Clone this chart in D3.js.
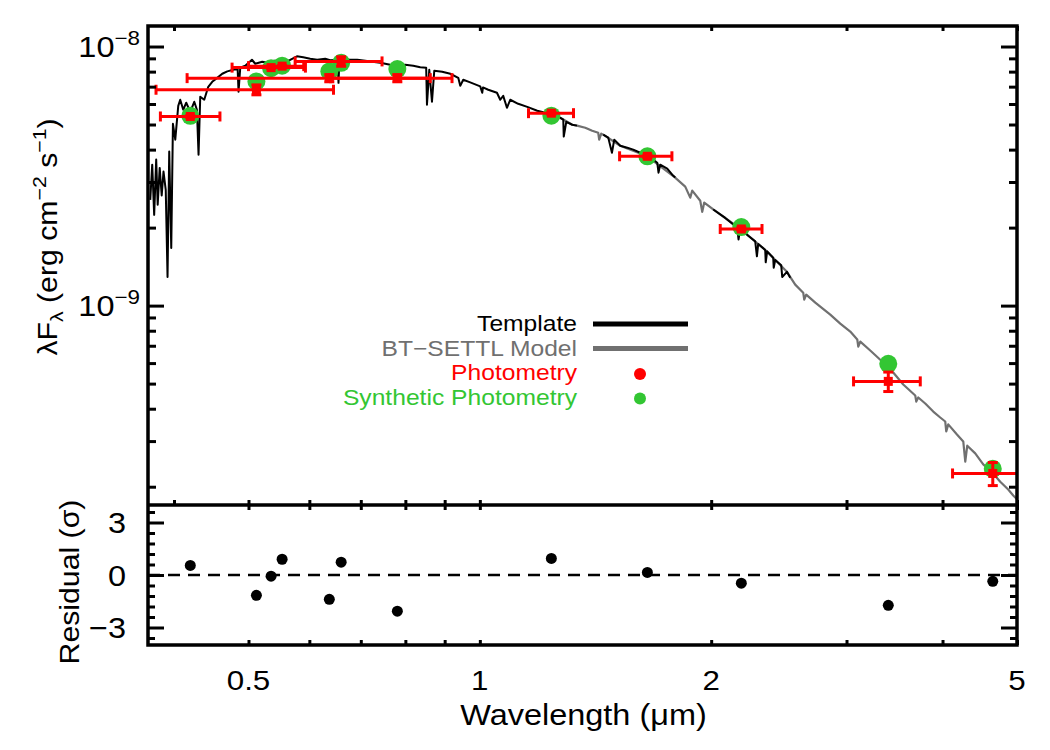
<!DOCTYPE html>
<html>
<head>
<meta charset="utf-8">
<script src="https://cdn.jsdelivr.net/npm/d3@7"></script>
<style>
body { margin: 0; background: #fff; }
svg text { font-family: "Liberation Sans", Arial, Helvetica, sans-serif; }
</style>
</head>
<body>
<div id="sed"></div>
<script>
// ---- data ----
// template spectrum (um, erg cm-2 s-1); null marks a gap in the template
const templateWave = [
  0.3725, 0.3747, 0.3769, 0.3792, 0.3809, 0.3832, 0.3855, 0.3876, 0.3902, 0.3923,
  0.3943, 0.3967, 0.3987, 0.4015, 0.4051, 0.4075, 0.4112, 0.4149, 0.4199, 0.4250,
  0.4284, 0.4305, 0.4327, 0.4379, 0.4432, 0.4485, 0.4553, 0.4622, 0.4692, 0.4777,
  0.4840, 0.4853, 0.4878, 0.4952, 0.5052, 0.5102, 0.5210, 0.5305, 0.5401, 0.5499,
  0.5616, 0.5781, 0.5891, 0.6016, 0.6143, 0.6292, 0.6387, 0.6530, 0.6548, 0.6565,
  0.6641, 0.6782, 0.6926, 0.7094, 0.7244, 0.7420, 0.7645, 0.7807, 0.7996, 0.8191,
  0.8365, 0.8515, 0.8535, 0.8594, 0.8664, 0.8724, 0.8934, 0.9152, 0.9374, 0.9430,
  0.9515, 0.9716, 1.0012, 1.0072, 1.0095, 1.0255, 1.0526, 1.0630, 1.0726, 1.0846,
  1.0953, 1.1218, 1.1527, 1.1877, 1.2165, 1.2423, 1.2649, 1.2840, 1.2859, 1.2956,
  1.3191, 1.3378,
  1.39,
  1.4473, 1.4692, 1.4856, 1.4959, 1.5230, 1.5553, 1.5835, 1.6171, 1.6513, 1.6812,
  1.7015, 1.7081, 1.7168, 1.7532, 1.7797, 1.7958,
  1.90,
  2.0124, 2.0860, 2.1623, 2.1707, 2.1818, 2.2347, 2.2821, 2.2937, 2.3027, 2.3515,
  2.3550, 2.3656, 2.4085, 2.4121, 2.4230, 2.4670, 2.4744, 2.5096, 2.5345
];
const templateFlux = [
  2.56e-9, 3.50e-9, 2.24e-9, 3.66e-9, 2.45e-9, 3.40e-9, 2.66e-9, 3.29e-9, 2.80e-9, 1.29e-9,
  3.93e-9, 1.67e-9, 5.03e-9, 4.37e-9, 5.90e-9, 6.23e-9, 5.70e-9, 6.07e-9, 5.60e-9, 6.12e-9,
  5.70e-9, 3.82e-9, 6.40e-9, 6.23e-9, 6.99e-9, 7.31e-9, 7.57e-9, 7.85e-9, 8.02e-9, 8.13e-9,
  8.20e-9, 6.69e-9, 8.28e-9, 8.43e-9, 8.89e-9, 8.58e-9, 8.73e-9, 8.65e-9, 8.81e-9, 8.73e-9,
  8.77e-9, 9.17e-9, 9.09e-9, 8.97e-9, 8.89e-9, 8.97e-9, 8.85e-9, 8.87e-9, 7.24e-9, 8.90e-9,
  8.93e-9, 8.89e-9, 8.89e-9, 8.81e-9, 8.73e-9, 8.65e-9, 8.50e-9, 8.43e-9, 8.50e-9, 8.43e-9,
  8.31e-9, 8.28e-9, 5.96e-9, 8.13e-9, 6.12e-9, 8.06e-9, 7.99e-9, 7.85e-9, 7.57e-9, 7.05e-9,
  7.44e-9, 7.27e-9, 7.02e-9, 6.63e-9, 6.95e-9, 6.81e-9, 6.63e-9, 6.23e-9, 6.45e-9, 5.80e-9,
  6.23e-9, 6.01e-9, 5.85e-9, 5.65e-9, 5.55e-9, 5.48e-9, 5.36e-9, 5.22e-9, 4.49e-9, 5.12e-9,
  4.99e-9, 4.95e-9,
  null,
  4.57e-9, 4.45e-9, 3.89e-9, 4.37e-9, 4.14e-9, 4.07e-9, 4.00e-9, 3.89e-9, 3.77e-9, 3.66e-9,
  3.56e-9, 3.26e-9, 3.50e-9, 3.38e-9, 3.20e-9, 3.12e-9,
  null,
  2.35e-9, 2.18e-9, 2.00e-9, 1.80e-9, 1.98e-9, 1.86e-9, 1.77e-9, 1.55e-9, 1.73e-9, 1.64e-9,
  1.47e-9, 1.62e-9, 1.53e-9, 1.40e-9, 1.50e-9, 1.43e-9, 1.29e-9, 1.35e-9, 1.28e-9
];

// BT-SETTL model (only the part that is not hidden under the template matters)
const modelWave = [
  1.2725, 1.3191, 1.3378, 1.3715, 1.4002, 1.4256, 1.4299, 1.4386, 1.4473, 1.5230,
  1.6513, 1.7958, 1.8012, 1.8504, 1.8784, 1.8897, 1.9355, 1.9471, 1.9588, 2.0124,
  2.1818, 2.3515, 2.5096, 2.5727, 2.6351, 2.6430, 2.6588, 2.7321, 2.8576, 2.9444,
  3.0341, 3.0984, 3.1077, 3.1264, 3.2211, 3.3490, 3.4509, 3.5560, 3.6862, 3.6973,
  3.7195, 3.7983, 3.8904, 3.9728, 4.0328, 4.0450, 4.0693, 4.1768, 4.2565, 4.2821,
  4.3078, 4.4119, 4.5190, 4.6426, 4.7552, 4.8703, 4.9440, 5.0
];
const modelFlux = [
  5.31e-9, 4.99e-9, 4.95e-9, 4.86e-9, 4.73e-9, 4.65e-9, 4.37e-9, 4.61e-9, 4.57e-9, 4.14e-9,
  3.77e-9, 3.12e-9, 3.09e-9, 2.88e-9, 2.61e-9, 2.78e-9, 2.54e-9, 2.30e-9, 2.50e-9, 2.35e-9,
  1.98e-9, 1.64e-9, 1.35e-9, 1.205e-9, 1.122e-9, 1.055e-9, 1.102e-9, 1.027e-9, 9.23e-10, 8.52e-10,
  7.94e-10, 7.40e-10, 6.95e-10, 7.26e-10, 6.71e-10, 6.03e-10, 5.52e-10, 4.96e-10, 4.50e-10, 4.26e-10,
  4.42e-10, 4.19e-10, 3.90e-10, 3.70e-10, 3.57e-10, 3.27e-10, 3.48e-10, 3.18e-10, 2.99e-10, 2.50e-10,
  2.88e-10, 2.69e-10, 2.44e-10, 2.27e-10, 2.09e-10, 1.95e-10, 1.85e-10, 1.79e-10
];

// photometric bands: centre, filter extent, observed flux, 1-sigma, synthetic flux, residual
const bandWave  = [0.420, 0.512, 0.535, 0.553, 0.637, 0.660, 0.781, 1.239, 1.652, 2.189, 3.40, 4.65];
const bandLo    = [0.384, 0.379, 0.476, 0.500, 0.416, 0.575, 0.639, 1.157, 1.520, 2.055, 3.064, 4.122];
const bandHi    = [0.459, 0.645, 0.593, 0.590, 0.862, 0.746, 0.920, 1.324, 1.778, 2.329, 3.742, 5.20];
const photFlux  = [5.37e-9, 6.81e-9, 8.29e-9, 8.40e-9, 7.55e-9, 8.76e-9, 7.55e-9, 5.53e-9, 3.77e-9, 1.976e-9, 5.10e-10, 2.25e-10];
const photErr   = [0.05e-9, 0.30e-9, 0.05e-9, 0.05e-9, 0.24e-9, 0.37e-9, 0.24e-9, 0.05e-9, 0.04e-9, 0.02e-9, 0.44e-10, 0.23e-10];
const synthFlux = [5.40e-9, 7.33e-9, 8.25e-9, 8.43e-9, 8.01e-9, 8.65e-9, 8.18e-9, 5.41e-9, 3.77e-9, 2.01e-9, 5.96e-10, 2.345e-10];
const residual  = [0.55, -1.16, -0.07, 0.90, -1.39, 0.73, -2.07, 0.95, 0.15, -0.47, -1.73, -0.36];

// ticks
const topXTicks   = [0.4, 0.5, 0.6, 0.7, 0.8, 0.9, 1, 2, 3, 4, 5];
const resXTicks   = [0.5, 0.6, 0.7, 0.8, 0.9, 1, 2, 3, 4, 5];
const xTickLabels = [0.5, 1, 2, 5];
const yMajor      = [1e-8, 1e-9];
const yMajorExp   = [-8, -9];
const yMinor      = [2e-10, 3e-10, 4e-10, 5e-10, 6e-10, 7e-10, 8e-10, 9e-10,
                     2e-9, 3e-9, 4e-9, 5e-9, 6e-9, 7e-9, 8e-9, 9e-9];
const resMajor    = [-3, 0, 3];
const resMinor    = [-3.6, -2.4, -1.8, -1.2, -0.6, 0.6, 1.2, 1.8, 2.4, 3.6];

const legendNames  = ["Template", "BT\u2212SETTL Model", "Photometry", "Synthetic Photometry"];
const legendColors = ["#000000", "#707070", "#ff0000", "#33c633"];

// ---- layout ----
const W = 1050, H = 750;
const pLeft = 148, pRight = 1017, pTop = 26, pMid = 505, pBottom = 645;
const stretch = 1.12;   // text in the figure is a bit wider than the font

const svg = d3.select("#sed").append("svg")
    .attr("width", W)
    .attr("height", H);

const x = d3.scaleLog().domain([0.37, 5]).range([pLeft, pRight]);
const y = d3.scaleLog().domain([1.7e-10, 1.2e-8]).range([pMid, pTop]);
const yRes = d3.scaleLinear().domain([-4, 4]).range([pBottom, pMid]);

svg.append("clipPath").attr("id", "clipTop")
    .append("rect")
    .attr("x", pLeft).attr("y", pTop)
    .attr("width", pRight - pLeft).attr("height", pMid - pTop);

const plot = svg.append("g").attr("clip-path", "url(#clipTop)");

const line = d3.line()
    .defined(d => d[1] != null)
    .x(d => x(d[0]))
    .y(d => y(d[1]));

plot.append("path")
    .datum(modelWave.map((w, i) => [w, modelFlux[i]]))
    .attr("d", line)
    .attr("fill", "none")
    .attr("stroke", "#707070")
    .attr("stroke-width", 2.2)
    .attr("stroke-linejoin", "round");

plot.append("path")
    .datum(templateWave.map((w, i) => [w, templateFlux[i]]))
    .attr("d", line)
    .attr("fill", "none")
    .attr("stroke", "#000")
    .attr("stroke-width", 2)
    .attr("stroke-linejoin", "round");

const bands = bandWave.map((w, i) => ({
    w: w, lo: bandLo[i], hi: bandHi[i], f: photFlux[i], e: photErr[i], s: synthFlux[i], r: residual[i]
}));

// synthetic photometry below the observed points
plot.selectAll("circle.synth")
    .data(bands)
    .enter().append("circle")
    .attr("class", "synth")
    .attr("cx", d => x(d.w))
    .attr("cy", d => y(d.s))
    .attr("r", 9)
    .attr("fill", "#33c633");

const eb = plot.selectAll("g.eb")
    .data(bands)
    .enter().append("g")
    .attr("class", "eb")
    .attr("stroke", "#ff0000")
    .attr("stroke-width", 3);

eb.append("line")
    .attr("x1", d => x(d.lo)).attr("x2", d => x(d.hi))
    .attr("y1", d => y(d.f)).attr("y2", d => y(d.f));
eb.append("line")
    .attr("x1", d => x(d.lo)).attr("x2", d => x(d.lo))
    .attr("y1", d => y(d.f) - 5).attr("y2", d => y(d.f) + 5);
eb.append("line")
    .attr("x1", d => x(d.hi)).attr("x2", d => x(d.hi))
    .attr("y1", d => y(d.f) - 5).attr("y2", d => y(d.f) + 5);
eb.append("line")
    .attr("x1", d => x(d.w)).attr("x2", d => x(d.w))
    .attr("y1", d => y(d.f - d.e)).attr("y2", d => y(d.f + d.e));
eb.append("line")
    .attr("x1", d => x(d.w) - 5).attr("x2", d => x(d.w) + 5)
    .attr("y1", d => y(d.f - d.e)).attr("y2", d => y(d.f - d.e));
eb.append("line")
    .attr("x1", d => x(d.w) - 5).attr("x2", d => x(d.w) + 5)
    .attr("y1", d => y(d.f + d.e)).attr("y2", d => y(d.f + d.e));
eb.append("rect")
    .attr("stroke", "none")
    .attr("fill", "#ff0000")
    .attr("x", d => x(d.w) - 4.5)
    .attr("y", d => y(d.f) - 4.5)
    .attr("width", 9).attr("height", 9);

// residual panel
svg.append("line")
    .attr("x1", pLeft).attr("x2", pRight)
    .attr("y1", yRes(0)).attr("y2", yRes(0))
    .attr("stroke", "#000")
    .attr("stroke-width", 2.5)
    .attr("stroke-dasharray", "12,8");

svg.selectAll("circle.res")
    .data(bands)
    .enter().append("circle")
    .attr("class", "res")
    .attr("cx", d => x(d.w))
    .attr("cy", d => yRes(d.r))
    .attr("r", 5.5)
    .attr("fill", "#000");

// ---- axes: inward ticks only, frame drawn separately ----
function ticks(axis, ty, tx) {
    const g = svg.append("g")
        .attr("transform", "translate(" + (tx || 0) + "," + (ty || 0) + ")")
        .call(axis.tickFormat(""));
    g.select(".domain").remove();
    g.selectAll(".tick line").attr("stroke", "#000").attr("stroke-width", 3);
    return g;
}

ticks(d3.axisBottom(x).tickValues(topXTicks).tickSize(-5), pMid);
ticks(d3.axisTop(x).tickValues(topXTicks).tickSize(-5), pTop);
ticks(d3.axisLeft(y).tickValues(yMajor).tickSize(-16), 0, pLeft);
ticks(d3.axisLeft(y).tickValues(yMinor).tickSize(-8), 0, pLeft);
ticks(d3.axisRight(y).tickValues(yMajor).tickSize(-16), 0, pRight);
ticks(d3.axisRight(y).tickValues(yMinor).tickSize(-8), 0, pRight);

ticks(d3.axisTop(x).tickValues(resXTicks).tickSize(-5), pMid);
ticks(d3.axisBottom(x).tickValues(resXTicks).tickSize(-5), pBottom);
ticks(d3.axisLeft(yRes).tickValues(resMajor).tickSize(-16), 0, pLeft);
ticks(d3.axisLeft(yRes).tickValues(resMinor).tickSize(-7), 0, pLeft);
ticks(d3.axisRight(yRes).tickValues(resMajor).tickSize(-16), 0, pRight);
ticks(d3.axisRight(yRes).tickValues(resMinor).tickSize(-7), 0, pRight);

svg.append("rect")
    .attr("x", pLeft).attr("y", pTop)
    .attr("width", pRight - pLeft).attr("height", pBottom - pTop)
    .attr("fill", "none")
    .attr("stroke", "#000")
    .attr("stroke-width", 3.5);
svg.append("line")
    .attr("x1", pLeft).attr("x2", pRight)
    .attr("y1", pMid).attr("y2", pMid)
    .attr("stroke", "#000")
    .attr("stroke-width", 3.5);

// ---- text ----
function label(tx, ty, anchor, size, rot) {
    return svg.append("text")
        .attr("transform", "translate(" + tx + "," + ty + ")" + (rot ? " rotate(" + rot + ")" : "") +
              " scale(" + stretch + ",1)")
        .attr("text-anchor", anchor)
        .attr("font-size", size);
}

xTickLabels.forEach(v => {
    label(x(v), 690, "middle", 28).text(v);
});

yMajor.forEach((v, i) => {
    const t = label(140, y(v) + 10, "end", 29);
    t.append("tspan").text("10");
    t.append("tspan").attr("dy", -12).attr("font-size", 20).text("\u2212" + (-yMajorExp[i]));
});

resMajor.forEach(v => {
    label(126, yRes(v) + 10.5, "end", 29).text(v < 0 ? "\u2212" + (-v) : v);
});

label((pLeft + pRight) / 2 + 1, 725, "middle", 29).text("Wavelength (\u03bcm)");

const yt = label(57, 237, "middle", 27, -90);
yt.append("tspan").text("\u03bbF");
yt.append("tspan").attr("dy", 6).attr("font-size", 19).text("\u03bb");
yt.append("tspan").attr("dy", -6).text(" (erg cm");
yt.append("tspan").attr("dy", -11).attr("font-size", 19).text("\u22122");
yt.append("tspan").attr("dy", 11).text(" s");
yt.append("tspan").attr("dy", -11).attr("font-size", 19).text("\u22121");
yt.append("tspan").attr("dy", 11).text(")");

label(79, 582, "middle", 27, -90).text("Residual (\u03c3)");

// legend
legendNames.forEach((name, i) => {
    const by = 331 + i * 24.5;
    label(577, by, "end", 22).attr("fill", legendColors[i]).text(name);
    if (i < 2) {
        svg.append("line")
            .attr("x1", 593).attr("x2", 688)
            .attr("y1", by - 7).attr("y2", by - 7)
            .attr("stroke", legendColors[i])
            .attr("stroke-width", 5);
    } else {
        svg.append("circle")
            .attr("cx", 640).attr("cy", by - 6)
            .attr("r", 6)
            .attr("fill", legendColors[i]);
    }
});
</script>
</body>
</html>
